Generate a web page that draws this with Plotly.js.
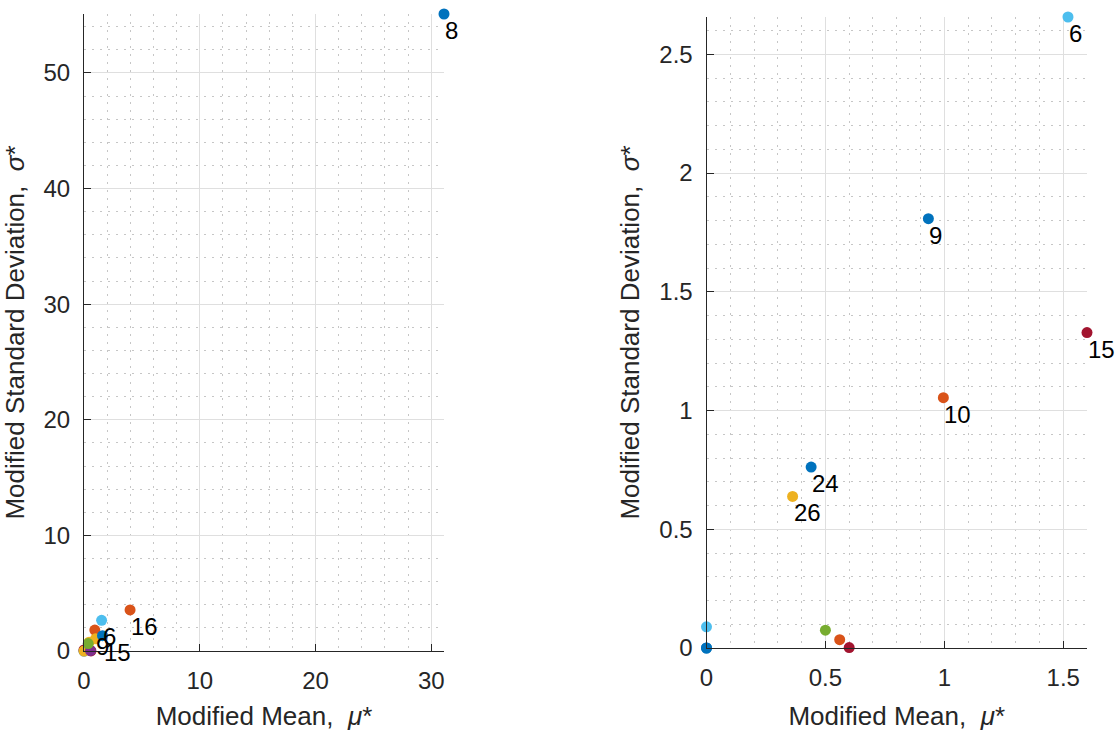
<!DOCTYPE html>
<html>
<head>
<meta charset="utf-8">
<script src="https://cdn.plot.ly/plotly-3.0.1.min.js"></script>
<style>
  html, body { margin: 0; padding: 0; background: #ffffff; }
  #chart { width: 1115px; height: 731px; }
</style>
</head>
<body>
<div id="chart"></div>
<script>
// Morris screening results: parameter index, modified mean and modified standard deviation
const paramIds = [1, 5, 6, 7, 8, 9, 10, 14, 15, 16, 17, 18, 24, 26];
const muStar   = [0, 0.50, 1.52, 0.60, 31.1, 0.933, 0.996, 0, 1.60, 3.98, 0, 0.56, 0.44, 0.362];
const sigmaStar = [0, 0.075, 2.657, 0.002, 55.1, 1.808, 1.054, 0.089, 1.328, 3.55, 0, 0.035, 0.762, 0.638];

// parameters excluded from the zoomed view (right panel)
const zoomExcluded = [8, 16];

// parameters annotated in each panel
const labelsAll  = [8, 16, 6, 9, 15];
const labelsZoom = [6, 9, 15, 10, 24, 26];

// MATLAB default colour order
const colorOrder = ['#0072BD', '#D95319', '#EDB120', '#7E2F8E', '#77AC30', '#4DBEEE', '#A2142F'];
const pick = k => colorOrder[(k - 1) % colorOrder.length];

const FONT = 'Liberation Sans, Arial, Helvetica, sans-serif';
const INK = '#262626';

// full set: colour by parameter index
const allColors = paramIds.map(id => pick(id));

// zoomed set: colour by position in the reduced parameter list
const zIdx = [], zMu = [], zSig = [], zCol = [];
paramIds.forEach((id, i) => {
  if (zoomExcluded.includes(id)) return;
  const k = id - zoomExcluded.filter(e => e < id).length;
  zIdx.push(id); zMu.push(muStar[i]); zSig.push(sigmaStar[i]); zCol.push(pick(k));
});

const traces = [
  {
    type: 'scatter', mode: 'markers', x: muStar, y: sigmaStar, text: paramIds.map(String),
    xaxis: 'x', yaxis: 'y', cliponaxis: false,
    marker: { size: 11, color: allColors, line: { width: 0 } },
    hoverinfo: 'text+x+y', showlegend: false
  },
  {
    type: 'scatter', mode: 'markers', x: zMu, y: zSig, text: zIdx.map(String),
    xaxis: 'x2', yaxis: 'y2', cliponaxis: false,
    marker: { size: 11, color: zCol, line: { width: 0 } },
    hoverinfo: 'text+x+y', showlegend: false
  }
];

function labelAnnots(ids, xs, ys, ids2, xref, yref) {
  return ids2.map(id => {
    const i = ids.indexOf(id);
    return {
      xref: xref, yref: yref, x: xs[i], y: ys[i], text: String(id),
      xanchor: 'left', yanchor: 'top', showarrow: false,
      xshift: -1, yshift: -1,
      font: { family: FONT, size: 24, color: '#000000' }
    };
  });
}

const annotations = [
  ...labelAnnots(paramIds, muStar, sigmaStar, labelsAll, 'x', 'y'),
  ...labelAnnots(zIdx, zMu, zSig, labelsZoom, 'x2', 'y2')
];

const xTitle = 'Modified Mean,  <i>μ</i>*';
const yTitle = 'Modified Standard Deviation,  <i>σ</i>*';

const minorGrid = dt => ({
  dtick: dt, showgrid: true, gridcolor: '#c6c6c6', griddash: '2px,6px', gridwidth: 1, ticks: ''
});

function axisBase(extra) {
  return Object.assign({
    showline: true, linecolor: INK, linewidth: 1,
    ticks: 'inside', ticklen: 7, tickcolor: INK, tickwidth: 1,
    showgrid: true, gridcolor: '#dfdfdf', gridwidth: 1,
    zeroline: false, mirror: false, automargin: false,
    tickfont: { family: FONT, size: 24, color: INK }
  }, extra);
}

const maxOf = a => Math.max(...a);
const titleFont = { family: FONT, size: 26, color: INK };

const layout = {
  width: 1115, height: 731,
  margin: { l: 0, r: 0, t: 0, b: 0 },
  paper_bgcolor: '#ffffff', plot_bgcolor: '#ffffff',
  font: { family: FONT, color: INK },
  showlegend: false,
  xaxis: axisBase({
    domain: [84 / 1115, 444 / 1115], anchor: 'y',
    range: [0, maxOf(muStar)], dtick: 10, ticklabelstandoff: 8,
    minor: minorGrid(2),
    title: { text: xTitle, font: titleFont, standoff: 18 }
  }),
  yaxis: axisBase({
    domain: [(731 - 651) / 731, (731 - 14) / 731], anchor: 'x',
    range: [0, maxOf(sigmaStar)], dtick: 10, ticklabelstandoff: 8,
    minor: minorGrid(2),
    title: { text: yTitle, font: titleFont, standoff: 12 }
  }),
  xaxis2: axisBase({
    domain: [706.5 / 1115, 1087 / 1115], anchor: 'y2',
    range: [0, maxOf(zMu)], dtick: 0.5, ticklabelstandoff: 8,
    minor: minorGrid(0.1),
    title: { text: xTitle, font: titleFont, standoff: 18 }
  }),
  yaxis2: axisBase({
    domain: [(731 - 648) / 731, (731 - 17) / 731], anchor: 'x2',
    range: [0, maxOf(zSig)], dtick: 0.5, ticklabelstandoff: 8,
    minor: minorGrid(0.1),
    title: { text: yTitle, font: titleFont, standoff: 12 }
  }),
  annotations: annotations
};

Plotly.newPlot('chart', traces, layout, { displayModeBar: false, staticPlot: true });
</script>
</body>
</html>
